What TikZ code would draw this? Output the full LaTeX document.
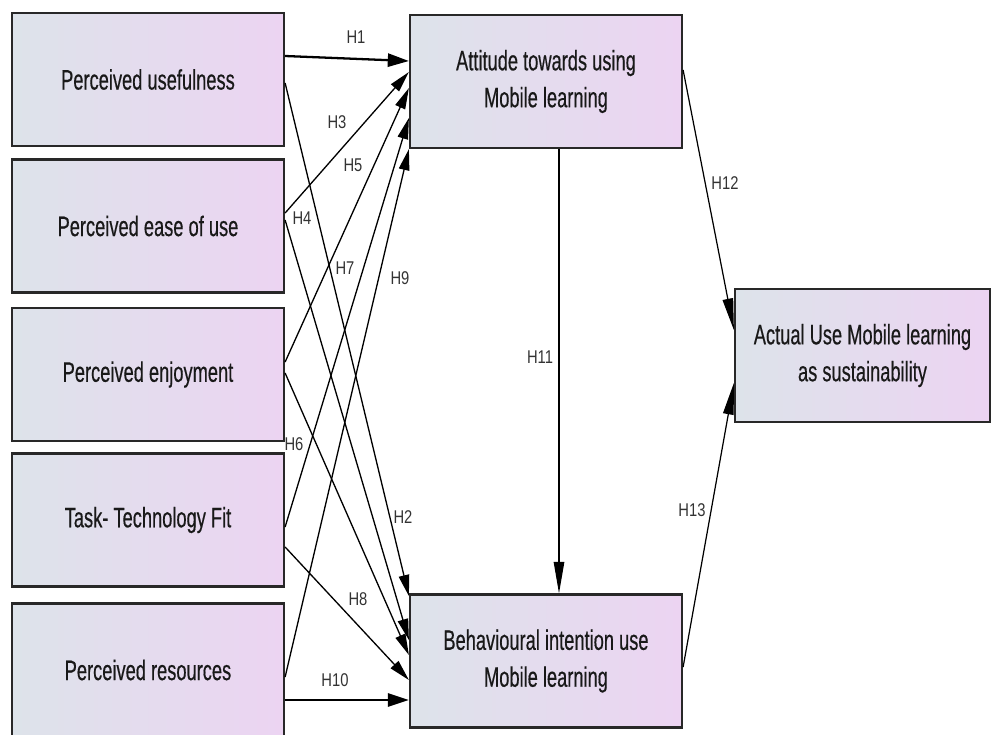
\documentclass[tikz,border=0pt]{standalone}
\usepackage{xcolor}
\usepackage{fontspec}
\usepackage{tikz}
\usetikzlibrary{arrows.meta}
\usetikzlibrary{calc}
\newfontfamily\boxfont[FakeStretch=0.65,FakeBold=0.4]{Liberation Sans}
\newfontfamily\hypfont[FakeStretch=0.8]{Liberation Sans}
\definecolor{boxleft}{RGB}{221,227,234}
\definecolor{boxright}{RGB}{236,212,242}
\definecolor{inkgray}{RGB}{40,40,40}

\begin{document}
\begin{tikzpicture}[x=0.02cm,y=-0.02cm,
    construct/.style={draw=inkgray,line width=1.3pt,left color=boxleft,right color=boxright,
      minimum width=5.44cm,minimum height=2.66cm,inner sep=0pt,align=center,
      text=black!90,font=\boxfont\fontsize{16pt}{21pt}\selectfont},
    hyp/.style={text=black!80,inner sep=1pt,font=\hypfont\fontsize{10.5pt}{12pt}\selectfont},
    rel/.style={line width=0.75pt,-{Triangle[length=12pt,width=6pt]}},
    relbold/.style={line width=1.3pt,-{Triangle[length=12pt,width=7.5pt]}},
    rellong/.style={line width=0.7pt,-{Triangle[length=18pt,width=6pt]}}]

    \clip (0,0) rectangle (997,734);% page frame

    \node[construct] (pu) at (148,79.5) {Perceived usefulness};% left column
    \node[construct] (peou) at (148,226) {Perceived ease of use};
    \node[construct] (pe) at (148,374.5) {Perceived enjoyment};
    \node[construct] (ttf) at (148,520) {Task- Technology Fit};
    \node[construct] (pr) at (148,670) {Perceived resources};

    \node[construct] (att) at (546,81.5) {Attitude towards using\\Mobile learning};% middle column
    \node[construct] (bi) at (546,661) {Behavioural intention use\\Mobile learning};
    \node[construct,minimum width=5.1cm] (au) at (862.5,355.5) {Actual Use Mobile learning\\as sustainability};% outcome

    \draw[relbold] ($(pu.east)+(0,-23.5)$) -- ($(att.west)+(0,-20.5)$);% H1
    \draw[rel] ($(pu.east)+(0,3.5)$) -- ($(bi.west)+(0,-65)$);% H2
    \draw[rel] ($(peou.east)+(0,-13)$) -- ($(att.west)+(0,-9.5)$);% H3
    \draw[rel] ($(peou.east)+(0,-6)$) -- ($(bi.west)+(0,-21)$);% H4
    \draw[rel] ($(pe.east)+(0,-12.5)$) -- ($(att.west)+(0,6.5)$);% H5
    \draw[rel] ($(pe.east)+(0,-1.5)$) -- ($(bi.west)+(0,-6)$);% H6
    \draw[rel] ($(ttf.east)+(0,7)$) -- ($(att.west)+(0,36.5)$);% H7
    \draw[rel] ($(ttf.east)+(0,27)$) -- ($(bi.west)+(0,19)$);% H8
    \draw[rel] ($(pr.east)+(0,7)$) -- (att.south west);% H9
    \draw[relbold] ($(pr.east)+(0,30)$) -- ($(bi.west)+(0,39)$);% H10
    \draw[rellong] ($(att.south)+(13,0)$) -- ($(bi.north)+(13,0)$);% H11
    \draw[rellong] ($(att.east)+(0,-11.5)$) -- ($(au.west)+(0,-25.5)$);% H12
    \draw[rellong] ($(bi.east)+(0,6)$) -- ($(au.west)+(0,27.5)$);% H13

    \node[hyp] (h1) at (356,37) {H1};% hypothesis labels
    \node[hyp] (h2) at (403,517) {H2};
    \node[hyp] (h3) at (337,122) {H3};
    \node[hyp] (h4) at (302,218) {H4};
    \node[hyp] (h5) at (353,165) {H5};
    \node[hyp] (h6) at (294,444) {H6};
    \node[hyp] (h7) at (345,268) {H7};
    \node[hyp] (h8) at (358,599) {H8};
    \node[hyp] (h9) at (400,278) {H9};
    \node[hyp] (h10) at (335,680) {H10};
    \node[hyp] (h11) at (540,357) {H11};
    \node[hyp] (h12) at (725,183) {H12};
    \node[hyp] (h13) at (692,510) {H13};

\end{tikzpicture}
\end{document}
